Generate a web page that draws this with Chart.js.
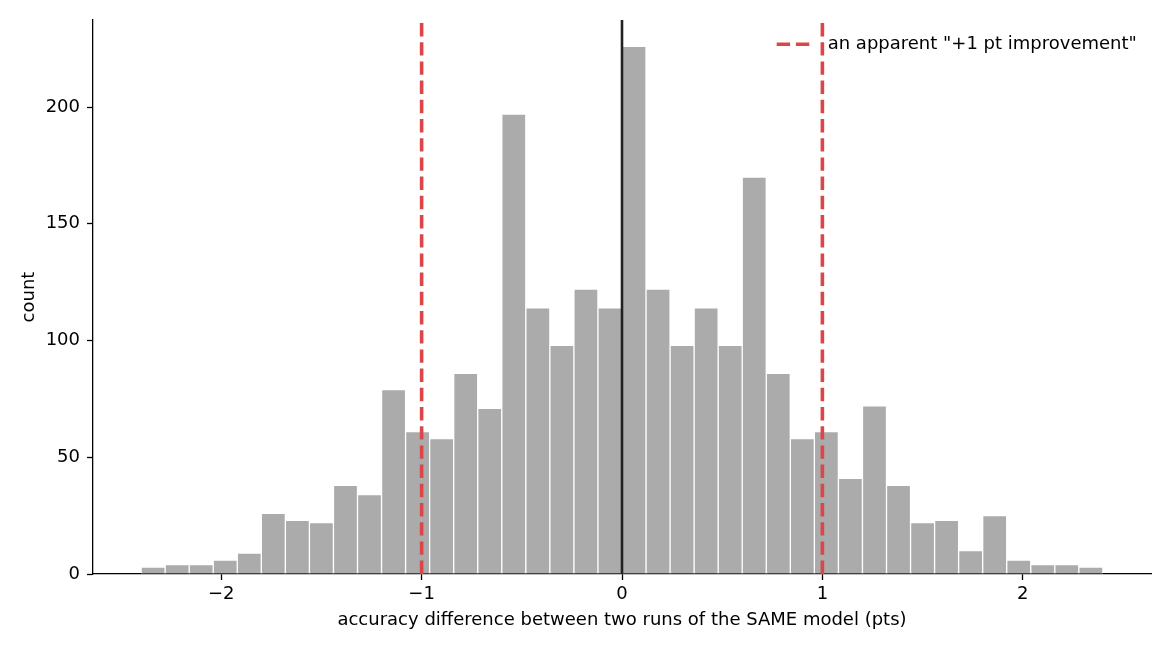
<!DOCTYPE html>
<html>
<head>
<meta charset="utf-8">
<script src="https://cdn.jsdelivr.net/npm/chart.js@4.4.0/dist/chart.umd.min.js"></script>
<style>
  html, body { margin: 0; padding: 0; background: #ffffff; }
  #wrap { width: 1170px; height: 650px; }
</style>
</head>
<body>
<div id="wrap"><canvas id="c" width="1170" height="650"></canvas></div>
<script>
// ---- data ----
const BIN_CENTERS = [-2.34, -2.22, -2.10, -1.98, -1.86, -1.74, -1.62, -1.50, -1.38, -1.26,
                     -1.14, -1.02, -0.90, -0.78, -0.66, -0.54, -0.42, -0.30, -0.18, -0.06,
                      0.06,  0.18,  0.30,  0.42,  0.54,  0.66,  0.78,  0.90,  1.02,  1.14,
                      1.26,  1.38,  1.50,  1.62,  1.74,  1.86,  1.98,  2.10,  2.22,  2.34];
const COUNTS = [3, 4, 4, 6, 9, 26, 23, 22, 38, 34,
                79, 61, 58, 86, 71, 197, 114, 98, 122, 114,
                226, 122, 98, 114, 98, 170, 86, 58, 61, 41,
                72, 38, 22, 23, 10, 25, 6, 4, 4, 3];
const X_TICKS = [-2, -1, 0, 1, 2];
const Y_TICKS = [0, 50, 100, 150, 200];
const X_RANGE = [-2.64, 2.64];
const Y_RANGE = [0, 237.3];
const RED_MARKERS = [-1, 1];
const ZERO_MARKER = 0;
const LEGEND_LABEL = 'an apparent "+1 pt improvement"';
const X_LABEL = 'accuracy difference between two runs of the SAME model (pts)';
const Y_LABEL = 'count';

// ---- styles ----
const FONT = 'DejaVu Sans';
const FS = 18;
const BAR_COLOR = '#ababab';
const RED = '#dc4649';
const RED_DASH = [13.4, 5.8];
const RED_WIDTH = 3.6;

const vline = (xv, color, width, dash, label, hidden) => ({
  type: 'line',
  label: label,
  data: [{x: xv, y: Y_RANGE[0]}, {x: xv, y: Y_RANGE[1]}],
  borderColor: color,
  borderWidth: width,
  borderDash: dash,
  pointRadius: 0,
  fill: false,
  tension: 0,
  order: 0,
  clip: false,
  inLegend: !hidden
});

const datasets = [
  vline(ZERO_MARKER, '#222222', 2.6, [], 'zero', true),
  vline(RED_MARKERS[0], RED, RED_WIDTH, RED_DASH, LEGEND_LABEL, true),
  vline(RED_MARKERS[1], RED, RED_WIDTH, RED_DASH, LEGEND_LABEL, false),
  {
    type: 'bar',
    label: 'count',
    data: BIN_CENTERS.map((c, i) => ({x: c, y: COUNTS[i]})),
    backgroundColor: BAR_COLOR,
    borderColor: '#ffffff',
    borderWidth: 1,
    borderSkipped: 'start',
    categoryPercentage: 1.0,
    barPercentage: 1.0,
    order: 2
  }
];

// legend drawn inside the axes, upper right, no frame
const insideLegend = {
  id: 'insideLegend',
  afterDatasetsDraw(chart) {
    const ctx = chart.ctx;
    const ds = chart.data.datasets.find(d => d.inLegend);
    const area = chart.chartArea;
    const x0 = area.right - 374.3;
    const y0 = area.top + 24.3;
    ctx.save();
    ctx.strokeStyle = ds.borderColor;
    ctx.lineWidth = ds.borderWidth;
    ctx.setLineDash(ds.borderDash);
    ctx.beginPath();
    ctx.moveTo(x0, y0);
    ctx.lineTo(x0 + 36, y0);
    ctx.stroke();
    ctx.setLineDash([]);
    ctx.fillStyle = '#000000';
    ctx.font = FS + 'px "' + FONT + '"';
    ctx.textBaseline = 'middle';
    ctx.textAlign = 'left';
    ctx.fillText(ds.label, x0 + 51, y0 + 0.5);
    ctx.restore();
  }
};

const minusFmt = v => String(v).replace('-', '\u2212');

new Chart(document.getElementById('c'), {
  type: 'bar',
  data: { datasets: datasets },
  plugins: [insideLegend],
  options: {
    responsive: false,
    animation: false,
    devicePixelRatio: 1,
    events: [],
    layout: { padding: { top: 20, right: 19, left: 0, bottom: 0 } },
    plugins: { legend: { display: false }, tooltip: { enabled: false }, title: { display: false } },
    scales: {
      x: {
        type: 'linear',
        min: X_RANGE[0],
        max: X_RANGE[1],
        offset: false,
        afterBuildTicks: s => { s.ticks = X_TICKS.map(v => ({value: v})); },
        afterFit: s => { s.height = 76; },
        grid: { display: true, offset: false, drawOnChartArea: false, drawTicks: true, tickLength: 6, tickColor: '#000000', tickWidth: 1.3 },
        border: { display: true, color: '#000000', width: 1.3 },
        ticks: { color: '#000000', font: { family: FONT, size: FS }, padding: 4, maxRotation: 0, autoSkip: false, callback: minusFmt },
        title: { display: true, text: X_LABEL, color: '#000000', font: { family: FONT, size: FS }, padding: { top: 0, bottom: 19 } }
      },
      y: {
        type: 'linear',
        min: Y_RANGE[0],
        max: Y_RANGE[1],
        afterBuildTicks: s => { s.ticks = Y_TICKS.map(v => ({value: v})); },
        afterFit: s => { s.width = 93; },
        grid: { display: true, offset: false, drawOnChartArea: false, drawTicks: true, tickLength: 6, tickColor: '#000000', tickWidth: 1.3 },
        border: { display: true, color: '#000000', width: 1.3 },
        ticks: { color: '#000000', font: { family: FONT, size: FS }, padding: 7, autoSkip: false, callback: minusFmt },
        title: { display: true, text: Y_LABEL, color: '#000000', font: { family: FONT, size: FS }, padding: { top: 19, bottom: 0 } }
      }
    }
  }
});
</script>
</body>
</html>
